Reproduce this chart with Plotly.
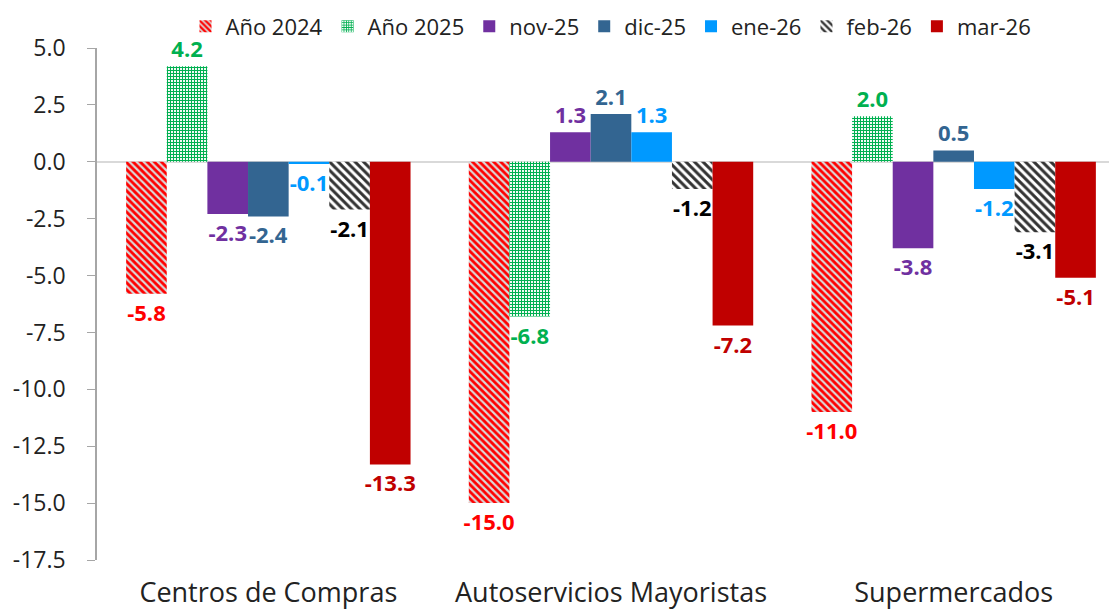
import plotly.graph_objects as go

categories = ["Centros de Compras", "Autoservicios Mayoristas", "Supermercados"]
series_names = ["Año 2024", "Año 2025", "nov-25", "dic-25", "ene-26", "feb-26", "mar-26"]
anio_2024 = [-5.8, -15.0, -11.0]
anio_2025 = [4.2, -6.8, 2.0]
nov_25 = [-2.3, 1.3, -3.8]
dic_25 = [-2.4, 2.1, 0.5]
ene_26 = [-0.1, 1.3, -1.2]
feb_26 = [-2.1, -1.2, -3.1]
mar_26 = [-13.3, -7.2, -5.1]
y_ticks = [5.0, 2.5, 0.0, -2.5, -5.0, -7.5, -10.0, -12.5, -15.0, -17.5]

values = [anio_2024, anio_2025, nov_25, dic_25, ene_26, feb_26, mar_26]
styles = [
    dict(color="#d9d9d9", pattern=dict(shape="\\", fgcolor="#ff0000", bgcolor="#d9d9d9", size=5, solidity=0.55, fgopacity=1), text="#ff0000"),
    dict(color="#ffffff", pattern=dict(shape="+", fgcolor="#00b050", bgcolor="#ffffff", size=3, solidity=0.6, fgopacity=1), text="#00b050"),
    dict(color="#7030a0", pattern=None, text="#7030a0"),
    dict(color="#336591", pattern=None, text="#336591"),
    dict(color="#0099ff", pattern=None, text="#0099ff"),
    dict(color="#ffffff", pattern=dict(shape="\\", fgcolor="#333333", bgcolor="#ffffff", size=6, solidity=0.5, fgopacity=1), text="#000000"),
    dict(color="#c00000", pattern=None, text="#c00000"),
]

FONT = "Open Sans"
fig = go.Figure()
for name, vals, st in zip(series_names, values, styles):
    marker = dict(color=st["color"], line=dict(width=0))
    if st["pattern"] is not None:
        marker["pattern"] = st["pattern"]
    fig.add_trace(go.Bar(
        name=name, x=categories, y=vals, marker=marker,
        texttemplate="%{y:.1f}", textposition="outside", constraintext="none",
        textfont=dict(family=FONT, size=22, color=st["text"], weight="bold"),
        cliponaxis=False,
    ))

fig.update_layout(
    width=1117, height=610,
    barmode="group", bargap=0.17, bargroupgap=0,
    plot_bgcolor="white", paper_bgcolor="white",
    margin=dict(l=89, r=0, t=40, b=58, autoexpand=False),
    font=dict(family=FONT, color="#222222"),
    legend=dict(orientation="h", x=0.5, xanchor="center", xref="paper",
                y=1.042, yref="paper", yanchor="middle",
                bgcolor="rgba(0,0,0,0)",
                font=dict(size=22, color="#222222"), itemwidth=30,
                traceorder="normal", tracegroupgap=0),
    showlegend=True,
)
fig.update_yaxes(range=[-17.5, 5.0], tickvals=y_ticks, ticktext=[f"{v:.1f}" for v in y_ticks],
                 showgrid=False, zeroline=True, zerolinecolor="#d9d9d9", zerolinewidth=2,
                 showline=True, linecolor="#a6a6a6", linewidth=1.5,
                 ticks="outside", tickcolor="#a6a6a6", ticklen=8,
                 ticklabelstandoff=17, automargin=False,
                 tickfont=dict(size=23, color="#222222"))
fig.update_xaxes(showgrid=False, showline=False, ticks="", automargin=False,
                 ticklabelstandoff=14,
                 tickfont=dict(size=27, color="#222222"))

fig.write_html("out.html")
